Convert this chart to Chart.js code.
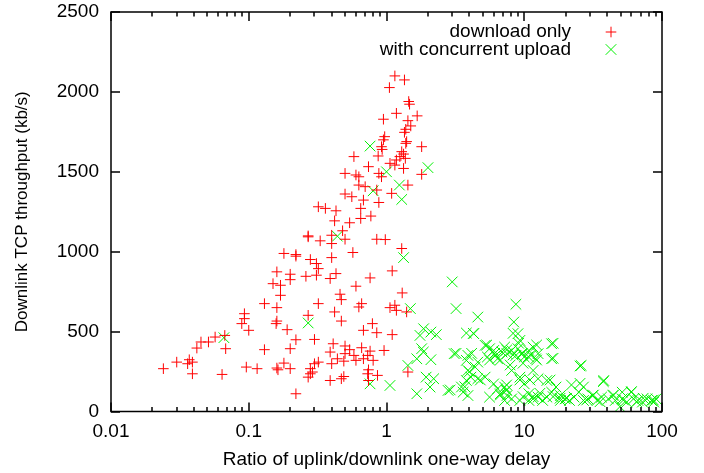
<!DOCTYPE html>
<html>
<head>
<meta charset="utf-8">
<script src="https://cdn.jsdelivr.net/npm/chart.js@4/dist/chart.umd.min.js"></script>
<style>
  html, body { margin: 0; padding: 0; background: #fff; }
  canvas { display: block; }
</style>
</head>
<body>
<canvas id="chart" width="704" height="473"></canvas>
<script>
// download only (red +)
const dlX = [1.15, 1.35, 1.05, 1.45, 1.47, 1.18, 1.67, 1.43, 0.95, 1.5, 1.38, 1.35, 1.4, 1.38, 1.8, 0.97, 0.95,
  0.92, 0.93, 1.29, 1.33, 1.25, 1.37, 1.18, 0.87, 0.58, 1.06, 1.15, 1.33, 0.74, 0.5, 0.6, 0.63, 0.88, 0.92,
  1.8, 1.43, 0.63, 0.7, 0.85, 1.09, 0.5, 0.56, 0.68, 0.88, 0.32, 0.36, 0.43, 0.65, 0.54, 0.42, 0.77, 0.65,
  0.27, 0.27, 0.33, 0.4, 0.48, 0.5, 0.85, 0.98, 0.4, 1.29, 0.18, 0.22, 0.57, 0.28, 0.4, 0.31, 0.32, 0.22,
  0.16, 0.2, 0.2, 0.26, 0.31, 0.43, 0.39, 0.76, 1.1, 0.15, 0.17, 0.17, 0.6, 0.46, 0.47, 1.3, 0.13, 0.32,
  0.66, 0.16, 0.63, 1.06, 1.15, 1.18, 0.42, 1.4, 0.093, 0.093, 0.27, 0.16, 0.158, 0.47, 0.79, 0.089, 0.19,
  0.1, 0.68, 0.85, 1.1, 0.067, 0.057, 0.051, 0.045, 0.042, 0.22, 0.3, 0.41, 0.5, 0.66, 0.068, 0.13, 0.2,
  0.39, 0.5, 0.54, 0.76, 0.96, 0.44, 0.58, 0.6, 0.68, 0.8, 0.73, 0.18, 0.4, 0.49, 0.32, 0.3, 0.037, 0.03,
  0.036, 0.039, 0.024, 0.096, 0.115, 0.16, 0.163, 0.2, 0.28, 0.29, 0.28, 0.27, 0.74, 0.73, 0.039, 0.064,
  1.43, 0.86, 0.49, 0.47, 0.39, 0.22, 0.74];
const dlY = [2100, 2075, 2027, 1940, 1923, 1866, 1850, 1820, 1829, 1787, 1766, 1747, 1689, 1678, 1657, 1720, 1700,
  1657, 1640, 1626, 1611, 1595, 1584, 1574, 1599, 1595, 1553, 1542, 1521, 1532, 1490, 1480, 1469, 1490, 1469,
  1484, 1417, 1417, 1407, 1386, 1365, 1361, 1344, 1323, 1308, 1281, 1271, 1256, 1271, 1181, 1193, 1223, 1208,
  1099, 1093, 1068, 1103, 1131, 1078, 1078, 1076, 1051, 1020, 989, 982, 995, 951, 963, 926, 894, 972,
  874, 859, 825, 846, 853, 863, 832, 836, 880, 800, 790, 727, 784, 734, 700, 742, 675, 675,
  675, 650, 654, 650, 665, 633, 623, 623, 612, 581, 602, 566, 550, 566, 550, 550, 512,
  508, 508, 493, 481, 476, 466, 435, 435, 397, 449, 451, 424, 410, 399, 393, 387, 393,
  372, 362, 387, 378, 382, 330, 351, 320, 330, 320, 351, 303, 299, 315, 309, 299, 324, 309,
  299, 309, 268, 278, 268, 272, 261, 268, 268, 247, 236, 215, 261, 236, 236, 232,
  247, 226, 219, 205, 194, 111, 194];

// with concurrent upload (green x)
const upX = [0.76, 2.0, 1.0, 0.8, 1.24, 1.29, 0.44, 1.33, 3.0, 3.2, 1.49, 8.7, 0.27, 8.4, 4.6, 0.066, 1.86,
  1.75, 2.1, 2.3, 3.8, 4.3, 9.0, 15.8, 9.3, 1.8, 1.85, 1.66, 2.1, 3.1, 3.9, 3.8, 5.2, 5.6, 6.0, 6.2, 6.4,
  6.9, 7.2, 7.5, 8.1, 8.7, 9.0, 9.7, 10.0, 10.8, 11.2, 11.6, 12.1, 12.6, 15.8, 5.4, 4.6, 4.4, 3.9, 4.1,
  4.6, 5.2, 6.0, 6.4, 7.4, 7.2, 6.7, 7.5, 3.8, 3.5, 2.8, 3.6, 3.9, 1.43, 1.06, 1.66, 1.94, 2.07, 2.2,
  0.76, 8.1, 9.3, 10.0, 11.6, 12.6, 10.8, 9.3, 10.8, 11.6, 12.6, 14.6, 17.0, 15.8, 18.3, 19.8, 21.3,
  23.0, 24.9, 25.9, 26.9, 29.0, 31.3, 33.8, 36.4, 37.8, 40.8, 44.1, 45.8, 51.4, 55.5, 59.8, 62.1, 66.9,
  72.1, 77.8, 83.9, 90.5, 87.1, 51.4, 26.9, 18.3, 14.6, 13.6, 8.1, 7.2, 5.6,
  5.34, 6.1, 7.45, 8.3, 9.6, 10.7, 12.3, 12.3, 9.8, 7.9, 6.7, 5.6, 4.15, 3.2, 4.0, 4.8, 3.7, 2.9,
  7.45, 7.45, 9.3, 11.0, 9.8, 11.6, 13.0, 15.4, 16.2, 18.2, 9.1, 8.3, 16.2, 16.2, 6.7, 4.27,
  25.4, 37.5, 60.0, 25.4, 22.0, 31.8, 44.4, 73.0, 86.5, 20.3, 28.4, 35.5, 52.5, 65.5, 49.5];
const upY = [1661, 1526, 1500, 1381, 1417, 1327, 1097, 963, 811, 644, 644, 671, 554, 560, 591, 462, 518,
  476, 497, 481, 491, 487, 487, 424, 445, 393, 372, 330, 324, 362, 351, 320, 414, 393, 382, 351, 330,
  372, 403, 362, 382, 351, 393, 362, 341, 382, 351, 403, 330, 362, 330, 341, 309, 278, 257, 215,
  205, 215, 173, 142, 132, 153, 111, 100, 194, 153, 132, 121, 100, 288, 163, 111, 215, 153, 205,
  173, 257, 215, 173, 257, 205, 111, 69, 69, 79, 90, 194, 153, 121, 100, 79, 69,
  90, 121, 288, 153, 79, 100, 69, 90, 194, 79, 100, 69, 79, 59, 121, 79, 69,
  59, 79, 69, 79, 59, 121, 69, 69, 90, 69, 79, 69, 90,
  416, 364, 385, 354, 364, 343, 416, 322, 302, 291, 322, 322, 364, 364, 249, 197, 155, 135,
  166, 135, 197, 197, 93, 93, 114, 197, 93, 83, 427, 489, 427, 333, 103, 489,
  285, 187, 124, 176, 166, 103, 103, 83, 72, 83, 72, 61, 72, 61, 30];

const xTickValues = [0.01, 0.1, 1, 10, 100];
const xTickLabels = ["0.01", "0.1", "1", "10", "100"];
const yTickValues = [0, 500, 1000, 1500, 2000, 2500];

const seriesNames = ["download only", "with concurrent upload"];
const seriesColors = ["#ff0000", "#00f000"];

const FONT = "'Liberation Sans', Arial, Helvetica, sans-serif";

function toPoints(xs, ys) {
  return xs.map((x, i) => ({ x: x, y: ys[i] }));
}

// gnuplot-style frame, inward ticks and a right-aligned legend
const framePlugin = {
  id: "frame",
  afterDraw(chart) {
    const ctx = chart.ctx;
    const a = chart.chartArea;
    const xs = chart.scales.x;
    const ys = chart.scales.y;
    ctx.save();
    ctx.strokeStyle = "#000";
    ctx.lineWidth = 1.5;
    ctx.beginPath();
    for (const t of xs.ticks) {
      const px = Math.round(xs.getPixelForValue(t.value));
      const len = xTickValues.includes(t.value) ? 9 : 4.5;
      ctx.moveTo(px, a.bottom);
      ctx.lineTo(px, a.bottom - len);
      ctx.moveTo(px, a.top);
      ctx.lineTo(px, a.top + len);
    }
    for (const v of yTickValues) {
      const py = Math.round(ys.getPixelForValue(v));
      ctx.moveTo(a.left, py);
      ctx.lineTo(a.left + 9, py);
      ctx.moveTo(a.right, py);
      ctx.lineTo(a.right - 9, py);
    }
    ctx.stroke();
    ctx.strokeRect(a.left, a.top, a.right - a.left, a.bottom - a.top);

    // legend
    ctx.font = "19px " + FONT;
    ctx.fillStyle = "#000";
    ctx.textAlign = "right";
    ctx.textBaseline = "middle";
    const rows = [32, 49.5];
    chart.data.datasets.forEach((ds, i) => {
      ctx.fillText(ds.label, 571, rows[i]);
      ctx.strokeStyle = ds.borderColor;
      ctx.lineWidth = 1;
      Chart.helpers.drawPoint(ctx, {
        pointStyle: ds.pointStyle,
        radius: ds.pointRadius,
        borderWidth: 1
      }, 611, rows[i]);
    });
    ctx.restore();
  }
};

new Chart(document.getElementById("chart"), {
  type: "scatter",
  data: {
    datasets: [
      {
        label: seriesNames[0],
        data: toPoints(dlX, dlY),
        pointStyle: "cross",
        pointRadius: 5.3,
        borderColor: seriesColors[0],
        backgroundColor: seriesColors[0],
        borderWidth: 1
      },
      {
        label: seriesNames[1],
        data: toPoints(upX, upY),
        pointStyle: "crossRot",
        pointRadius: 7.5,
        borderColor: seriesColors[1],
        backgroundColor: seriesColors[1],
        borderWidth: 1
      }
    ]
  },
  options: {
    responsive: false,
    animation: false,
    devicePixelRatio: 1,
    layout: { padding: { top: 12, right: 42, left: 0, bottom: 0 } },
    plugins: {
      legend: { display: false },
      tooltip: { enabled: false }
    },
    scales: {
      x: {
        type: "logarithmic",
        min: 0.01,
        max: 100,
        afterBuildTicks(scale) {
          const ticks = [];
          for (let d = -2; d <= 1; d++) {
            for (let m = 1; m <= 9; m++) {
              ticks.push({ value: +(m * Math.pow(10, d)).toPrecision(3) });
            }
          }
          ticks.push({ value: 100 });
          scale.ticks = ticks;
        },
        afterFit(scale) {
          scale.height = 61.5;
          scale.paddingLeft = 0;
          scale.paddingRight = 0;
        },
        grid: { display: false, drawTicks: false },
        border: { display: false },
        ticks: {
          autoSkip: false,
          maxRotation: 0,
          padding: 9,
          color: "#000",
          font: { family: FONT, size: 19 },
          callback(value) {
            const i = xTickValues.indexOf(value);
            return i >= 0 ? xTickLabels[i] : "";
          }
        },
        title: {
          display: true,
          text: "Ratio of uplink/downlink one-way delay",
          color: "#000",
          font: { family: FONT, size: 19 },
          padding: { top: 0, bottom: 2 }
        }
      },
      y: {
        min: 0,
        max: 2500,
        afterBuildTicks(scale) {
          scale.ticks = yTickValues.map(v => ({ value: v }));
        },
        afterFit(scale) {
          scale.width = 111;
          scale.paddingTop = 0;
          scale.paddingBottom = 0;
        },
        grid: { display: false, drawTicks: false },
        border: { display: false },
        ticks: {
          autoSkip: false,
          padding: 12,
          color: "#000",
          font: { family: FONT, size: 19 },
          callback(value) { return String(value); }
        },
        title: {
          display: true,
          text: "Downlink TCP throughput (kb/s)",
          color: "#000",
          font: { family: FONT, size: 17 },
          padding: { top: 12, bottom: 0 }
        }
      }
    }
  },
  plugins: [framePlugin]
});
</script>
</body>
</html>
